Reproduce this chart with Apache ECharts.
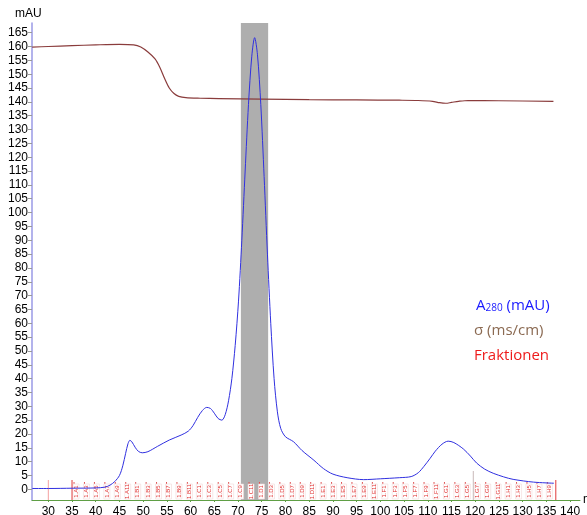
<!DOCTYPE html>
<html>
<head>
<meta charset="utf-8">
<script src="https://cdn.jsdelivr.net/npm/echarts@6/dist/echarts.min.js"></script>
<style>
  html, body { margin: 0; padding: 0; background: #ffffff; }
  #chart { width: 587px; height: 515px; }
</style>
</head>
<body>
<div id="chart"></div>
<script>
// Chromatogram: UV absorbance (A280) and conductivity over elution volume (ml)

// A280 trace, [ml, mAU]
const a280 = [
  [26.6, 0.3], [30, 0.3], [35, 0.4], [40, 0.5], [42, 0.8], [43, 1.5], [44, 2.8],
  [45, 5], [45.7, 8.5], [46.3, 13], [46.8, 16.5], [47.2, 17.7], [47.6, 17.2],
  [48.3, 15.2], [49, 13.7], [49.8, 13.2], [51, 13.6], [53, 15.5], [55.5, 17.8],
  [58, 19.6], [59.5, 21], [60.5, 23], [61.5, 26], [62.5, 28.5], [63.4, 29.6],
  [64.2, 29.2], [65, 27.5], [65.8, 25.6], [66.6, 25], [67.3, 27], [68, 32],
  [68.7, 40], [69.4, 52], [70.1, 68], [70.8, 90], [71.5, 115], [72.2, 139],
  [72.9, 156.5], [73.5, 163.2], [74.1, 157], [74.8, 139], [75.5, 113], [76.2, 85],
  [76.9, 60], [77.6, 40], [78.3, 28], [79, 22], [80, 19], [81.7, 17.2], [83.5, 14],
  [86, 10.5], [88, 7.5], [90, 5.5], [93, 4.2], [96.5, 3.5], [100, 3.8], [104, 4.2],
  [106.5, 4.6], [108, 6], [109.2, 8.3], [110.5, 11.2], [111.6, 13.8], [113, 16.3],
  [114.3, 17.4], [115.5, 16.9], [117.5, 14.6], [119, 12], [120.3, 9.5], [122, 7.3],
  [123.8, 5.8], [126, 4.5], [128, 3.6], [132.3, 2.6], [136.6, 2.2]
];

// Conductivity trace on the same scale, [ml, value]
const conductivity = [
  [26.6, 159.8], [30, 160], [35, 160.3], [40, 160.6], [45, 160.8], [48, 160.6],
  [49.5, 159.8], [51, 158], [52.5, 155.5], [53.5, 152.5], [54.5, 148.5], [55.5, 145],
  [56.5, 143], [57.5, 142], [59, 141.5], [62, 141.3], [66, 141.2], [75, 141],
  [85, 140.8], [95, 140.7], [104, 140.6], [108, 140.5], [111, 140.2], [112.5, 139.7],
  [113.8, 139.5], [115, 139.8], [116.5, 140.2], [118.5, 140.5], [125, 140.4], [136.5, 140.2]
];

// Fraction starts (ml) and their well names
const fractionStarts = [
  35.0, 37.2, 39.3, 41.5, 43.7, 45.9, 48.0, 50.2, 52.4, 54.5, 56.7, 58.9, 61.0, 63.2,
  65.4, 67.6, 69.7, 71.9, 74.1, 76.2, 78.4, 80.6, 82.7, 84.9, 87.1, 89.3, 91.4, 93.6,
  95.8, 97.9, 100.1, 102.3, 104.4, 106.6, 108.8, 110.9, 113.1, 115.3, 117.5, 119.6,
  121.8, 124.0, 126.1, 128.3, 130.5, 132.6, 134.8
];
const fractionNames = [
  '1.A1', '1.A3', '1.A5', '1.A7', '1.A9', '1.A11',
  '1.B1', '1.B3', '1.B5', '1.B7', '1.B9', '1.B11',
  '1.C1', '1.C3', '1.C5', '1.C7', '1.C9', '1.C11',
  '1.D1', '1.D3', '1.D5', '1.D7', '1.D9', '1.D11',
  '1.E1', '1.E3', '1.E5', '1.E7', '1.E9', '1.E11',
  '1.F1', '1.F3', '1.F5', '1.F7', '1.F9', '1.F11',
  '1.G1', '1.G3', '1.G5', '1.G7', '1.G9', '1.G11',
  '1.H1', '1.H3', '1.H5', '1.H7', '1.H9'
];
// Event marks along the baseline: [ml, kind]
const eventMarks = [[30, 'inject'], [35, 'frac'], [119.6, 'plate'], [137.0, 'frac']];

// Pooled region (ml)
const poolRange = [70.6, 76.35];

// Axis ticks
const xTicks = [30, 35, 40, 45, 50, 55, 60, 65, 70, 75, 80, 85, 90, 95, 100, 105, 110, 115, 120, 125, 130, 135, 140];
const yTicks = [0, 5, 10, 15, 20, 25, 30, 35, 40, 45, 50, 55, 60, 65, 70, 75, 80, 85,
                90, 95, 100, 105, 110, 115, 120, 125, 130, 135, 140, 145, 150, 155, 160, 165];

const chart = echarts.init(document.getElementById('chart'), null, { renderer: 'canvas' });

const fractionData = fractionStarts.map((x) => [x, 0]);
const markData = eventMarks.map((m) => [m[0], 0]);
const markColors = { inject: '#f4a0a0', frac: '#e03a3a', plate: '#c8b8b8' };
const Y_MIN = -3.86;

chart.setOption({
  animation: false,
  backgroundColor: '#ffffff',
  grid: { left: 32, right: 7, top: 23, bottom: 15, containLabel: false, outerBoundsMode: 'none' },
  xAxis: {
    type: 'value', min: 26.56, max: 142.1,
    name: 'ml', nameLocation: 'end', nameGap: 3,
    nameTextStyle: { color: '#000', fontSize: 12, fontFamily: 'Liberation Sans', verticalAlign: 'middle' },
    axisLine: { show: true, onZero: false, lineStyle: { color: '#5f9f45', width: 1 } },
    axisTick: { show: true, customValues: xTicks, length: 2, lineStyle: { color: '#5f9f45' } },
    axisLabel: {
      customValues: xTicks, color: '#000', fontSize: 12, margin: 6,
      fontFamily: 'Liberation Sans Narrow, Liberation Sans, Arial'
    },
    splitLine: { show: false }
  },
  yAxis: {
    type: 'value', min: Y_MIN, max: 168.5,
    axisLine: { show: true, onZero: false, lineStyle: { color: '#9a9ae6', width: 1.5 } },
    axisTick: { show: true, customValues: yTicks, length: 4, lineStyle: { color: '#999' } },
    axisLabel: {
      customValues: yTicks, color: '#000', fontSize: 12, margin: 4,
      fontFamily: 'Liberation Sans Narrow, Liberation Sans, Arial'
    },
    splitLine: { show: false }
  },
  graphic: [
    { type: 'text', left: 15, top: 8, style: { text: 'mAU', fill: '#000', font: '12px "Liberation Sans", Arial' } },
    {
      type: 'text', left: 476, top: 298, style: {
        rich: {
          a: { fill: '#1a1aff', fontSize: 15, fontFamily: 'Open Sans' },
          s: { fill: '#1a1aff', fontSize: 10, fontFamily: 'Open Sans', verticalAlign: 'bottom', padding: [6, 0, 0, 0] }
        },
        text: '{a|A}{s|280}{a| (mAU)}'
      }
    },
    { type: 'text', left: 474, top: 323, style: { text: 'σ (ms/cm)', fill: '#8b6a52', font: '15px "Open Sans"' } },
    { type: 'text', left: 474, top: 348, style: { text: 'Fraktionen', fill: '#ee1c1c', font: '15px "Open Sans"' } }
  ],
  series: [
    {
      name: 'pool', type: 'line', data: [], z: 1,
      markArea: {
        silent: true,
        itemStyle: { color: '#aeaeae' },
        data: [[{ xAxis: poolRange[0] }, { xAxis: poolRange[1] }]]
      }
    },
    {
      name: 'Fraktionen', type: 'custom', z: 3, data: fractionData,
      renderItem: function (params, api) {
        const x = api.value(0);
        const p = api.coord([x, 0]);
        const bottom = api.coord([x, Y_MIN])[1];
        return {
          type: 'group',
          children: [
            { type: 'line', shape: { x1: p[0] + 2, y1: bottom - 18, x2: p[0] + 2, y2: bottom - 16 },
              style: { stroke: '#e05050', lineWidth: 1 } },
            { type: 'rect', shape: { x: p[0] + 1, y: bottom - 16, width: 6, height: 15 },
              style: { fill: '#fff', stroke: '#f2d6d6', lineWidth: 0.6 } },
            { type: 'text', x: p[0] + 4, y: bottom - 8.5, rotation: Math.PI / 2,
              style: { text: fractionNames[params.dataIndex], fill: '#e03030', font: '6px "Liberation Sans", Arial',
                       align: 'center', verticalAlign: 'middle' } }
          ]
        };
      },
      encode: { x: 0, y: 1 }
    },
    {
      name: 'marks', type: 'custom', z: 3, data: markData,
      renderItem: function (params, api) {
        const x = api.value(0);
        const kind = eventMarks[params.dataIndex][1];
        const px = api.coord([x, 0])[0];
        const bottom = api.coord([x, Y_MIN])[1];
        const len = kind === 'plate' ? 29 : 20;
        return { type: 'line', shape: { x1: px, y1: bottom - len, x2: px, y2: bottom },
                 style: { stroke: markColors[kind], lineWidth: 1 } };
      },
      encode: { x: 0, y: 1 }
    },
    {
      name: 'σ (ms/cm)', type: 'line', data: conductivity, smooth: 0.3, symbol: 'none', z: 4,
      lineStyle: { color: '#8a3c3c', width: 1.2 }
    },
    {
      name: 'A280 (mAU)', type: 'line', data: a280, smooth: 0.3, symbol: 'none', z: 5,
      lineStyle: { color: '#3030e0', width: 1 }
    }
  ]
});
</script>
</body>
</html>
